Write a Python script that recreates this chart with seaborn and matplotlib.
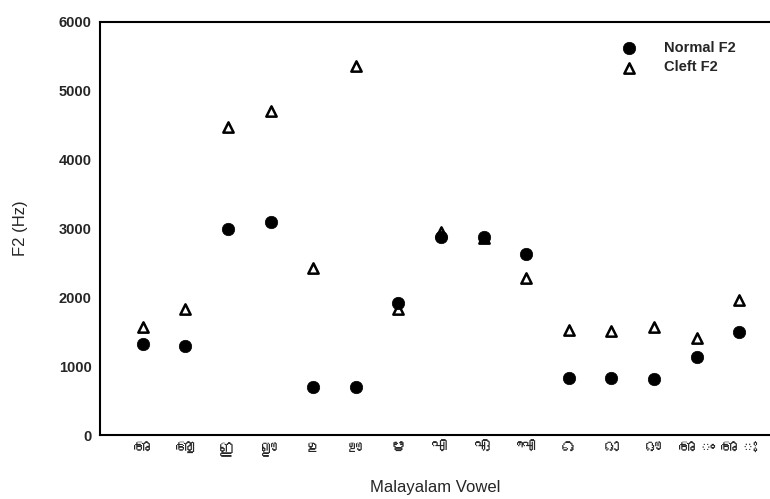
import matplotlib
matplotlib.use("Agg")
import matplotlib.pyplot as plt
from matplotlib import font_manager
import seaborn as sns
import pandas as pd

vowels = ["അ", "ആ", "ഇ", "ഈ", "ഉ", "ഊ", "ഋ", "എ", "ഏ", "ഐ", "ഒ", "ഓ", "ഔ", "അം", "അഃ"]
normal_f2 = [1320, 1290, 3000, 3090, 700, 700, 1920, 2880, 2880, 2630, 830, 830, 815, 1140, 1500]
cleft_f2 = [1570, 1830, 4480, 4710, 2430, 5360, 1830, 2950, 2860, 2280, 1525, 1510, 1570, 1410, 1960]
y_ticks = [0, 1000, 2000, 3000, 4000, 5000, 6000]

sns.set_theme(style="white")
plt.rcParams["font.family"] = ["Liberation Sans", "DejaVu Sans"]

# find a font with Malayalam glyphs, if any
mal_font = None
try:
    from matplotlib.ft2font import FT2Font
    for f in font_manager.findSystemFonts():
        try:
            ft = FT2Font(f)
            if ord("അ") in ft.get_charmap():
                mal_font = font_manager.FontProperties(fname=f).get_name()
                break
        except Exception:
            pass
except Exception:
    pass

df = pd.DataFrame({"vowel": vowels, "normal": normal_f2, "cleft": cleft_f2})

fig = plt.figure(figsize=(7.7, 4.99), dpi=100)
ax = fig.add_axes([0.13, 0.128, 0.87, 0.828])

sns.scatterplot(data=df, x="vowel", y="cleft", ax=ax, marker="^", s=55,
                facecolor="white", edgecolor="black", linewidth=1.8, label="Cleft F2", zorder=3)
sns.scatterplot(data=df, x="vowel", y="normal", ax=ax, marker="o", s=80,
                color="black", edgecolor="black", linewidth=0.5, label="Normal F2", zorder=4)

ax.set_xlim(-1, 14.72)
ax.set_ylim(0, 6000)
ax.set_yticks(y_ticks)
ax.set_yticklabels([str(v) for v in y_ticks], fontsize=10.5, fontweight="bold")
ax.set_xticks(range(len(vowels)))
fam = [mal_font, "DejaVu Sans"] if mal_font else ["DejaVu Sans"]
ax.set_xticklabels(vowels, fontsize=13, family=fam)
ax.tick_params(axis="both", length=0, pad=6)
ax.tick_params(axis="x", pad=5)
ax.set_xlabel("Malayalam Vowel", fontsize=12, labelpad=17)
ax.set_ylabel("F2 (Hz)", fontsize=12, labelpad=22)
for s in ["left", "bottom", "top"]:
    ax.spines[s].set_color("black")
    ax.spines[s].set_linewidth(1.5)
ax.spines["right"].set_visible(False)

handles, labels = ax.get_legend_handles_labels()
order = [labels.index("Normal F2"), labels.index("Cleft F2")]
leg = ax.legend([handles[i] for i in order], [labels[i] for i in order],
                loc="upper right", bbox_to_anchor=(0.968, 0.985), frameon=False,
                handletextpad=1.4, labelspacing=0.35,
                prop={"size": 10.5, "weight": "bold"})

fig.savefig("out.png", dpi=100)
